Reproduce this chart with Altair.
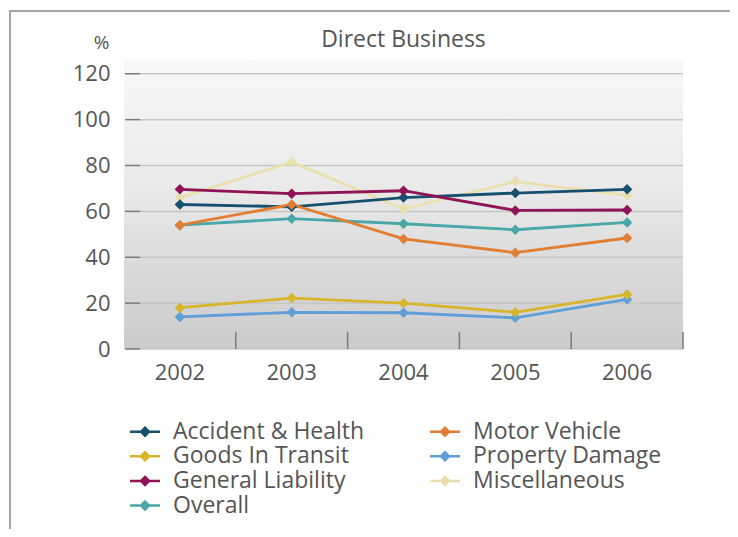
import altair as alt
import pandas as pd

years = ["2002", "2003", "2004", "2005", "2006"]
series_names = ["Miscellaneous", "Property Damage", "Goods In Transit", "Overall",
                "Accident & Health", "Motor Vehicle", "General Liability"]
accident_health = [63, 62, 66, 68, 69.6]
motor_vehicle = [54, 63, 48, 42, 48.4]
goods_in_transit = [18, 22.2, 20, 16, 23.8]
property_damage = [14, 16, 15.8, 13.6, 21.6]
general_liability = [69.6, 67.7, 69, 60.4, 60.6]
miscellaneous = [66, 81.5, 61, 73, 67]
overall = [54, 56.8, 54.6, 52, 55.2]

# legend is laid out column by column: first column, then second column
legend_order = ["Accident & Health", "Goods In Transit", "General Liability", "Overall",
                "Motor Vehicle", "Property Damage", "Miscellaneous"]
legend_colors = ["#15506e", "#d8b62c", "#8e1456", "#4aa7a8", "#e07f33", "#5f9ed6", "#e9e0ad"]
y_ticks = [0, 20, 40, 60, 80, 100, 120]
chart_title = "Direct Business"

values_by_series = {
    "Miscellaneous": miscellaneous,
    "Property Damage": property_damage,
    "Goods In Transit": goods_in_transit,
    "Overall": overall,
    "Accident & Health": accident_health,
    "Motor Vehicle": motor_vehicle,
    "General Liability": general_liability,
}
rows = []
for name in series_names:
    for yr, v in zip(years, values_by_series[name]):
        rows.append({"year": yr, "series": name, "value": v})
df = pd.DataFrame(rows)

W, H = 559, 289
FONT = "Open Sans"
TXT = "#555555"

xscale = alt.Scale(type="band", domain=years, paddingInner=0, paddingOuter=0)
yscale = alt.Scale(domain=[0, 126], nice=False, zero=True)
series_scale = alt.Scale(domain=legend_order, range=legend_colors)


def make_legend():
    return alt.Legend(
        orient="none", legendX=9.5, legendY=360, columns=2, title=None,
        symbolType="M-3,0H3M0,-0.8L0.8,0L0,0.8L-0.8,0Z", symbolSize=100,
        symbolStrokeWidth=2.5, labelFont=FONT, labelFontSize=23, labelColor=TXT,
        labelOffset=16.5, rowPadding=0.7, columnPadding=60, padding=0, labelLimit=0)


one = alt.Data(values=[{}])

bg = alt.Chart(one).mark_rect(
    color=alt.Gradient(gradient="linear", x1=0, x2=0, y1=0, y2=1,
                       stops=[alt.GradientStop(color="#f8f8f8", offset=0),
                              alt.GradientStop(color="#e9e9e9", offset=0.45),
                              alt.GradientStop(color="#cbcbcb", offset=1)])
).encode(x=alt.value(0), x2=alt.value(W), y=alt.value(0), y2=alt.value(H))

frame_top = alt.Chart(one).mark_rule(color="#a5a5a5", strokeWidth=2).encode(
    x=alt.value(-114), x2=alt.value(620), y=alt.value(-49))
frame_left = alt.Chart(one).mark_rule(color="#a5a5a5", strokeWidth=2).encode(
    x=alt.value(-114), y=alt.value(-50), y2=alt.value(480))

title_mark = alt.Chart(one).mark_text(
    font=FONT, fontSize=23, color=TXT, align="center", baseline="middle"
).encode(x=alt.value(W / 2), y=alt.value(-20), text=alt.value(chart_title))

tick_df = pd.DataFrame({"value": y_ticks})
grid = alt.Chart(tick_df).mark_rule(color="#c6c6c6", strokeWidth=1.5).encode(
    y=alt.Y("value:Q", scale=yscale), x=alt.value(16), x2=alt.value(W))
yticks = alt.Chart(tick_df).mark_rule(color="#7a7a7a", strokeWidth=1.5).encode(
    y=alt.Y("value:Q", scale=yscale), x=alt.value(1), x2=alt.value(16))

xtick_df = pd.DataFrame({"year": years})
xticks = alt.Chart(xtick_df).mark_rule(color="#7a7a7a", strokeWidth=1.5).encode(
    x=alt.X("year:N", scale=xscale, bandPosition=1),
    y=alt.value(H), y2=alt.value(H - 17))

lines = alt.Chart(df).mark_line(strokeWidth=2.8).encode(
    x=alt.X("year:N", scale=xscale, sort=None,
            axis=alt.Axis(title=None, domain=False, ticks=False, grid=False, labelAngle=0,
                          labelFont=FONT, labelFontSize=22, labelColor=TXT, labelPadding=13)),
    y=alt.Y("value:Q", scale=yscale,
            axis=alt.Axis(title="%", values=y_ticks, domain=False, ticks=False, grid=False,
                          labelFont=FONT, labelFontSize=22, labelColor=TXT, labelPadding=14,
                          titleAngle=0, titleX=-23, titleY=-18, titleFont=FONT, titleFontSize=19,
                          titleFontWeight="normal", titleColor=TXT, titleAlign="center",
                          titleBaseline="middle")),
    stroke=alt.Stroke("series:N", scale=series_scale, sort=legend_order, legend=make_legend()),
    detail="series:N",
)
points = alt.Chart(df).mark_point(shape="diamond", filled=True, size=110, opacity=1).encode(
    x=alt.X("year:N", scale=xscale),
    y=alt.Y("value:Q", scale=yscale),
    fill=alt.Fill("series:N", scale=series_scale, sort=legend_order, legend=make_legend()),
)

chart = alt.layer(lines, frame_top, frame_left, bg, grid, yticks, xticks, lines, points,
                  title_mark).properties(
    width=W, height=H,
    autosize=alt.AutoSizeParams(type="none"),
    padding={"left": 116, "top": 52, "right": 47, "bottom": 180},
).configure_view(stroke=None)

chart.save("out.html", embed_options={"renderer": "svg", "actions": False})
